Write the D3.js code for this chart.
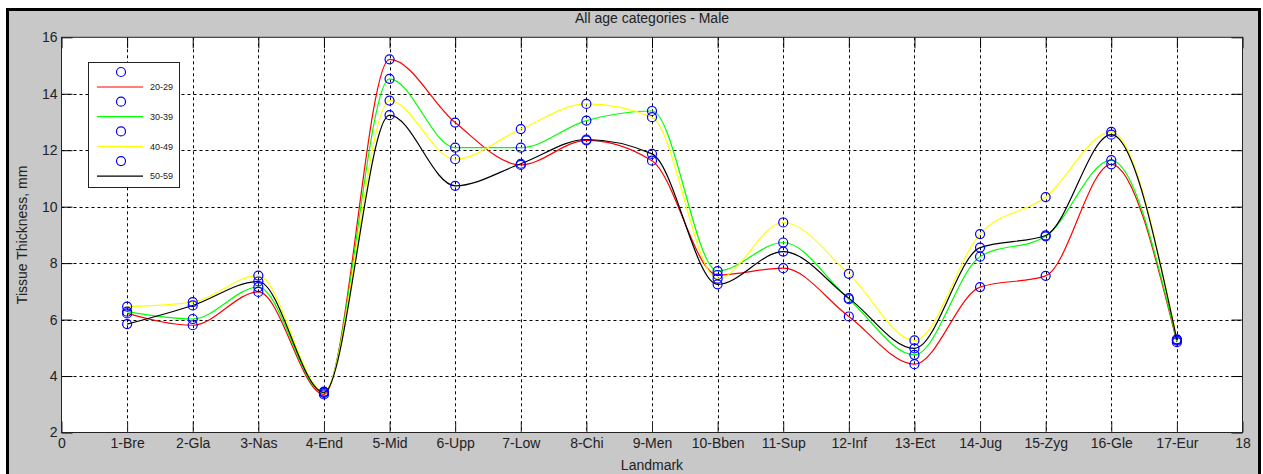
<!DOCTYPE html>
<html>
  <head>
    <title>All age categories - Male</title>
    <script src="https://d3js.org/d3.v7.min.js"></script>
    <style>
      body { margin: 0; background: #fff; }
      text { font-family: "Liberation Sans", Arial, sans-serif; }
    </style>
  </head>
  <body>
    <div id="chart"></div>
    <script>
      // landmarks on the x axis (positions 1..17)
      var landmarks = ["1-Bre", "2-Gla", "3-Nas", "4-End", "5-Mid", "6-Upp", "7-Low", "8-Chi", "9-Men",
                       "10-Bben", "11-Sup", "12-Inf", "13-Ect", "14-Jug", "15-Zyg", "16-Gle", "17-Eur"];
      var ageGroups = ["20-29", "30-39", "40-49", "50-59"];
      var lineColors = ["#ff0000", "#00ff00", "#ffff00", "#000000"];

      // tissue thickness (mm) per age group
      var age20_29 = [6.22, 5.80, 6.98, 3.35, 15.22, 12.98, 11.48, 12.35, 11.63, 7.58, 7.82, 6.11, 4.42, 7.15, 7.55, 11.50, 5.20];
      var age30_39 = [6.28, 6.02, 7.15, 3.40, 14.53, 12.09, 12.09, 13.05, 13.39, 7.72, 8.73, 6.72, 4.75, 8.23, 8.95, 11.65, 5.25];
      var age40_49 = [6.46, 6.62, 7.56, 3.45, 13.76, 11.68, 12.75, 13.64, 13.17, 7.45, 9.44, 7.62, 5.26, 9.03, 10.34, 12.65, 5.30];
      var age50_59 = [5.84, 6.50, 7.35, 3.42, 13.24, 10.74, 11.52, 12.38, 11.87, 7.25, 8.41, 6.76, 4.98, 8.55, 8.98, 12.55, 5.28];
      var seriesValues = [age20_29, age30_39, age40_49, age50_59];

      var xTicks = d3.range(0, 19);
      var yTicks = [2, 4, 6, 8, 10, 12, 14, 16];

      var W = 1263, H = 474;
      var plot = { left: 61.5, right: 1242.5, top: 37.3, bottom: 432.5 };

      var svg = d3.select("#chart").append("svg")
        .attr("width", W)
        .attr("height", H);

      // figure background and frame
      svg.append("rect")
        .attr("x", 7.5).attr("y", 9.5)
        .attr("width", 1252).attr("height", 480)
        .attr("fill", "#c8c8c8")
        .attr("stroke", "#000")
        .attr("stroke-width", 3);

      var xScale = d3.scaleLinear().domain([0, 18]).range([plot.left, plot.right]);
      var yScale = d3.scaleLinear().domain([2, 16]).range([plot.bottom, plot.top]);

      svg.append("rect")
        .attr("x", plot.left).attr("y", plot.top)
        .attr("width", plot.right - plot.left)
        .attr("height", plot.bottom - plot.top)
        .attr("fill", "#fff");

      // dashed grid
      var grid = svg.append("g").attr("stroke", "#000").attr("stroke-dasharray", "3,3").attr("stroke-width", 1);
      grid.selectAll("line.vx")
        .data(xTicks.slice(1, -1))
        .enter().append("line")
        .attr("x1", function(d) { return Math.round(xScale(d)) + 0.5; })
        .attr("x2", function(d) { return Math.round(xScale(d)) + 0.5; })
        .attr("y1", plot.top).attr("y2", plot.bottom);
      grid.selectAll("line.hy")
        .data(yTicks.slice(1, -1))
        .enter().append("line")
        .attr("y1", function(d) { return Math.round(yScale(d)) + 0.5; })
        .attr("y2", function(d) { return Math.round(yScale(d)) + 0.5; })
        .attr("x1", plot.left).attr("x2", plot.right);

      // axes with inner ticks
      var tickLen = 11;
      var xAxis = svg.append("g")
        .attr("transform", "translate(0," + plot.bottom + ")")
        .call(d3.axisBottom(xScale).tickValues(xTicks).tickSizeInner(-tickLen).tickSizeOuter(0)
          .tickFormat(function(d) { return d >= 1 && d <= 17 ? landmarks[d - 1] : d; }));
      xAxis.select(".domain").remove();
      xAxis.selectAll("text").attr("font-size", "14px").attr("fill", "#222").attr("y", 6).attr("dy", "0.71em");
      xAxis.selectAll("line").attr("stroke", "#222");

      var xTop = svg.append("g")
        .attr("transform", "translate(0," + plot.top + ")")
        .call(d3.axisTop(xScale).tickValues(xTicks).tickSizeInner(-tickLen).tickSizeOuter(0).tickFormat(""));
      xTop.select(".domain").remove();

      var yAxis = svg.append("g")
        .attr("transform", "translate(" + plot.left + ",0)")
        .call(d3.axisLeft(yScale).tickValues(yTicks).tickSizeInner(-tickLen).tickSizeOuter(0));
      yAxis.select(".domain").remove();
      yAxis.selectAll("text").attr("font-size", "14px").attr("fill", "#222").attr("x", -4);

      var yRight = svg.append("g")
        .attr("transform", "translate(" + plot.right + ",0)")
        .call(d3.axisRight(yScale).tickValues(yTicks).tickSizeInner(-tickLen).tickSizeOuter(0).tickFormat(""));
      yRight.select(".domain").remove();

      svg.append("rect")
        .attr("x", plot.left).attr("y", plot.top)
        .attr("width", plot.right - plot.left)
        .attr("height", plot.bottom - plot.top)
        .attr("fill", "none")
        .attr("stroke", "#222");

      // interpolated lines and markers
      var line = d3.line()
        .x(function(d, i) { return xScale(i + 1); })
        .y(function(d) { return yScale(d); })
        .curve(d3.curveMonotoneX);

      seriesValues.forEach(function(vals, k) {
        svg.append("path")
          .datum(vals)
          .attr("d", line)
          .attr("fill", "none")
          .attr("stroke", lineColors[k])
          .attr("stroke-width", 1.2);
      });

      seriesValues.forEach(function(vals) {
        svg.append("g").selectAll("circle")
          .data(vals)
          .enter().append("circle")
          .attr("cx", function(d, i) { return xScale(i + 1); })
          .attr("cy", function(d) { return yScale(d); })
          .attr("r", 4.5)
          .attr("fill", "none")
          .attr("stroke", "#0000ff")
          .attr("stroke-width", 1.2);
      });

      // legend
      var legend = svg.append("g").attr("transform", "translate(88,62)");
      legend.append("rect")
        .attr("x", 0.5).attr("y", 0.5)
        .attr("width", 91).attr("height", 125)
        .attr("fill", "#fff")
        .attr("stroke", "#222");
      ageGroups.forEach(function(g, k) {
        var y0 = 10 + k * 29.7;
        legend.append("circle")
          .attr("cx", 33).attr("cy", y0)
          .attr("r", 4.5)
          .attr("fill", "none")
          .attr("stroke", "#0000ff")
          .attr("stroke-width", 1.2);
        legend.append("line")
          .attr("x1", 9).attr("x2", 55)
          .attr("y1", y0 + 15).attr("y2", y0 + 15)
          .attr("stroke", lineColors[k])
          .attr("stroke-width", 1.2);
        legend.append("text")
          .attr("x", 62).attr("y", y0 + 15)
          .attr("dy", "0.35em")
          .attr("font-size", "9px")
          .attr("fill", "#222")
          .text(g);
      });

      // titles
      svg.append("text")
        .attr("x", (plot.left + plot.right) / 2).attr("y", 23)
        .attr("text-anchor", "middle")
        .attr("font-size", "14px")
        .attr("fill", "#222")
        .text("All age categories - Male");

      svg.append("text")
        .attr("x", (plot.left + plot.right) / 2).attr("y", 470)
        .attr("text-anchor", "middle")
        .attr("font-size", "14px")
        .attr("fill", "#222")
        .text("Landmark");

      svg.append("text")
        .attr("transform", "translate(27," + ((plot.top + plot.bottom) / 2) + ") rotate(-90)")
        .attr("text-anchor", "middle")
        .attr("font-size", "14px")
        .attr("fill", "#222")
        .text("Tissue Thickness, mm");
    </script>
  </body>
</html>
